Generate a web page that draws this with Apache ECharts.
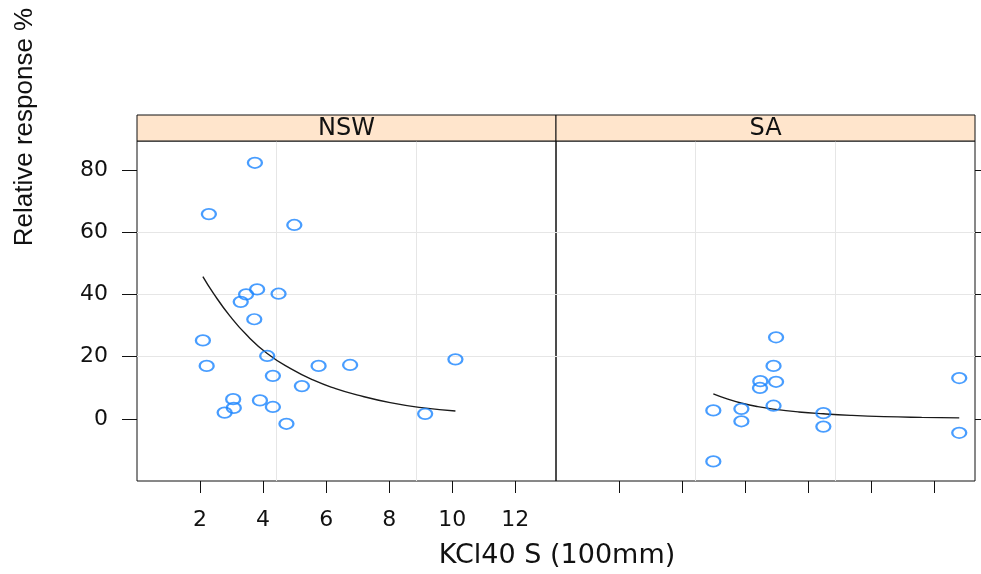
<!DOCTYPE html>
<html>
<head>
<meta charset="utf-8">
<script src="https://cdn.jsdelivr.net/npm/echarts@6/dist/echarts.min.js"></script>
<style>html,body{margin:0;padding:0;background:#fff}#c{width:981px;height:574px}</style>
</head>
<body>
<div id="c"></div>
<script>
// ---- data ----
const panels = ['NSW', 'SA'];
const xTicks = [2, 4, 6, 8, 10, 12];
const yTicks = [0, 20, 40, 60, 80];
const xTitle = 'KCl40 S (100mm)';
const yTitle = 'Relative response %';

const nswX = [3.74, 2.28, 4.99, 3.81, 3.46, 4.49, 3.29, 3.72, 2.09, 2.21, 4.13, 5.76, 6.76, 10.10, 4.31, 5.23, 3.05, 3.90, 3.07, 2.78, 4.31, 9.14, 4.74];
const nswY = [82.3, 65.8, 62.3, 41.6, 40.0, 40.2, 37.6, 32.0, 25.2, 17.0, 20.2, 17.0, 17.3, 19.1, 13.8, 10.5, 6.3, 5.9, 3.5, 2.0, 3.8, 1.6, -1.6];
const nswFitX = [2.09, 2.42, 2.95, 3.48, 4.13, 4.86, 5.60, 6.30, 6.97, 8.03, 9.09, 10.10];
const nswFitY = [45.7, 40.4, 33.0, 26.9, 21.0, 16.2, 12.4, 9.7, 7.7, 5.2, 3.5, 2.5];

const saX = [6.98, 6.90, 6.48, 6.98, 6.47, 12.79, 6.90, 4.99, 5.88, 8.48, 5.88, 8.48, 12.79, 4.99];
const saY = [26.2, 17.0, 12.1, 11.9, 9.9, 13.1, 4.2, 2.7, 3.2, 1.8, -0.8, -2.5, -4.5, -13.7];
const saFitX = [4.99, 5.45, 5.90, 6.40, 6.90, 7.70, 8.48, 9.35, 10.4, 11.6, 12.79];
const saFitY = [8.0, 6.3, 5.0, 3.9, 3.1, 2.2, 1.6, 1.1, 0.7, 0.45, 0.3];

// ---- layout ----
const L = [137, 556], W = 419, T = 141, H = 340, STRIP = 26;
const X_MIN = 0, X_MAX = 13.29, Y_MIN = -20, Y_MAX = 89.3;
const INK = '#111111', GRID = '#e6e6e6', PT = '#1a85ff';
const HFONT = 'DejaVu Sans';

const zip = (a, b) => a.map((v, i) => [v, b[i]]);

const grid = L.map(l => ({left: l, top: T, width: W, height: H, show: true,
  borderColor: INK, borderWidth: 1, backgroundColor: 'transparent'}));

const mainX = L.map((l, i) => ({
  gridIndex: i, type: 'value', min: X_MIN, max: X_MAX, position: 'bottom',
  axisLine: {show: false, onZero: false},
  axisTick: {show: true, inside: false, length: 12, customValues: xTicks, lineStyle: {color: INK}},
  axisLabel: {show: i === 0, customValues: xTicks, margin: 28, color: INK, fontSize: 22, fontFamily: HFONT},
  splitLine: {show: false}
}));
const gridX = L.map((l, i) => ({
  gridIndex: i, type: 'value', min: 0, max: 3, interval: 1, position: 'top',
  axisLine: {show: false, onZero: false}, axisTick: {show: false}, axisLabel: {show: false},
  splitLine: {show: true, showMinLine: false, showMaxLine: false, lineStyle: {color: GRID, width: 1}}
}));
const yAx = L.map((l, i) => ({
  gridIndex: i, type: 'value', min: Y_MIN, max: Y_MAX, interval: 20,
  position: i === 0 ? 'left' : 'right',
  axisLine: {show: false, onZero: false},
  axisTick: {show: true, inside: false, length: 15, customValues: yTicks, lineStyle: {color: INK}},
  axisLabel: {show: i === 0, customValues: yTicks, margin: 29, color: INK, fontSize: 22, fontFamily: HFONT},
  splitLine: {show: true, showMinLine: false, showMaxLine: false, lineStyle: {color: GRID, width: 1}}
}));

const scatterStyle = {
  type: 'scatter', symbol: 'circle', symbolSize: [14, 10.5],
  itemStyle: {color: 'rgba(0,0,0,0)', borderColor: PT, borderWidth: 2},
  emphasis: {disabled: true}, z: 3
};
const lineStyle = {
  type: 'line', showSymbol: false, smooth: 0.5,
  lineStyle: {color: '#1a1a1a', width: 1.4}, emphasis: {disabled: true}, z: 2
};

const series = [
  Object.assign({}, scatterStyle, {name: panels[0], xAxisIndex: 0, yAxisIndex: 0, data: zip(nswX, nswY)}),
  Object.assign({}, lineStyle, {name: panels[0] + ' fit', xAxisIndex: 0, yAxisIndex: 0, data: zip(nswFitX, nswFitY)}),
  Object.assign({}, scatterStyle, {name: panels[1], xAxisIndex: 1, yAxisIndex: 1, data: zip(saX, saY)}),
  Object.assign({}, lineStyle, {name: panels[1] + ' fit', xAxisIndex: 1, yAxisIndex: 1, data: zip(saFitX, saFitY)})
];

const graphic = [];
panels.forEach((name, i) => {
  graphic.push({type: 'rect', shape: {x: L[i], y: T - STRIP, width: W, height: STRIP},
    style: {fill: '#FFE5CC', stroke: INK, lineWidth: 1}, z: 10});
  graphic.push({type: 'text', x: L[i] + W / 2, y: T - STRIP / 2 + 1,
    style: {text: name, fontSize: 24, fontFamily: HFONT, fill: INK, align: 'center', verticalAlign: 'middle'}, z: 11});
});
graphic.push({type: 'text', x: 557, y: 556,
  style: {text: xTitle, fontSize: 27, fontFamily: HFONT, fill: INK, align: 'center', verticalAlign: 'middle'}});
graphic.push({type: 'text', x: 25, y: 127, rotation: Math.PI / 2,
  style: {text: yTitle, fontSize: 26, fontFamily: 'Liberation Sans', fill: INK, align: 'center', verticalAlign: 'middle'}});

const chart = echarts.init(document.getElementById('c'), null, {renderer: 'canvas'});
chart.setOption({
  animation: false,
  backgroundColor: '#fff',
  grid: grid,
  xAxis: mainX.concat(gridX),
  yAxis: yAx,
  series: series,
  graphic: graphic
});
</script>
</body>
</html>
